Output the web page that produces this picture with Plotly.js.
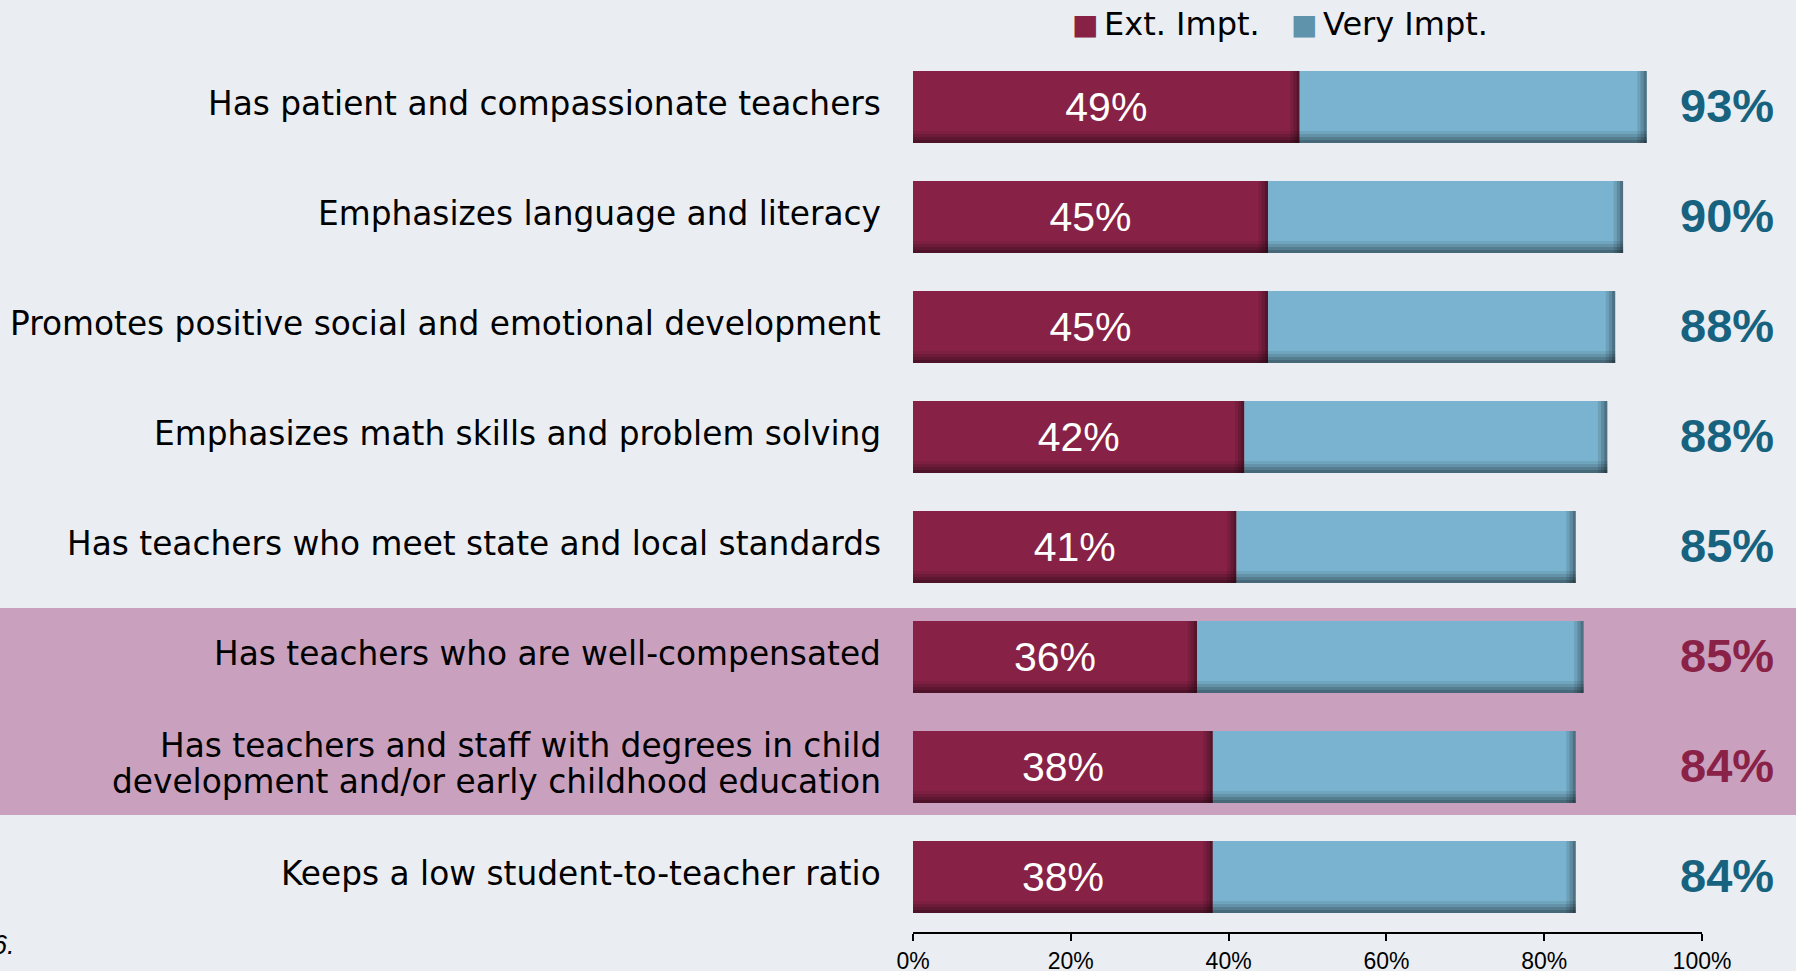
<!DOCTYPE html>
<html>
<head>
<meta charset="utf-8">
<script src="https://cdn.plot.ly/plotly-3.0.1.min.js"></script>
<style>
html,body{margin:0;padding:0;background:#eaeef3;}
#chart{width:1796px;height:971px;}
</style>
</head>
<body>
<div id="chart"></div>
<script>
// ---- data ----
const categories = [
  'Has patient and compassionate teachers',
  'Emphasizes language and literacy',
  'Promotes positive social and emotional development',
  'Emphasizes math skills and problem solving',
  'Has teachers who meet state and local standards',
  'Has teachers who are well-compensated',
  'Has teachers and staff with degrees in child<br>development and/or early childhood education',
  'Keeps a low student-to-teacher ratio'
];
const extImpt  = [49, 45, 45, 42, 41, 36, 38, 38];
const veryImpt = [44, 45, 44, 46, 43, 49, 46, 46];
const netTotals = [93, 90, 88, 88, 85, 85, 84, 84];
const highlighted = [5, 6];
const seriesNames = ['Ext. Impt.', 'Very Impt.'];
const tickVals = [0, 20, 40, 60, 80, 100];
const tickLabels = ['0%', '20%', '40%', '60%', '80%', '100%'];
const footnote = '6.';

// ---- styling / geometry ----
const W = 1796, H = 971;
const M = {l: 913, r: 94, t: 52, b: 39};
const PW = W - M.l - M.r, PH = H - M.t - M.b;
const px2x = px => (px - M.l) / PW;           // pixel -> paper x
const py2y = py => 1 - (py - M.t) / PH;       // pixel -> paper y
const RED = '#872246', BLUE = '#7ab3cf';
const TEAL = '#17637f', MAROON = '#8a2248';
const BG = '#eaeef3', BAND = '#c9a1be';
const BARW = 0.655;

const idx = categories.map((_, i) => i);
const totalLen = extImpt.map((v, i) => v + veryImpt[i]);

const traces = [];
traces.push({
  type: 'bar', orientation: 'h', name: seriesNames[0],
  y: idx, x: extImpt, base: 0, width: BARW,
  marker: {color: RED, line: {width: 0}},
  text: extImpt.map(v => v + '%'), textposition: 'inside',
  insidetextanchor: 'middle', constraintext: 'none',
  textfont: {family: 'Liberation Sans, Arial, sans-serif', size: 41, color: '#ffffff'},
  hoverinfo: 'skip', showlegend: false
});
traces.push({
  type: 'bar', orientation: 'h', name: seriesNames[1],
  y: idx, x: veryImpt, base: extImpt, width: BARW,
  marker: {color: BLUE, line: {width: 0}},
  hoverinfo: 'skip', showlegend: false
});
// bevel shading: bottom gradient strips
const bottomAlphas = [0.08, 0.18, 0.30, 0.42];
const stripW = 0.11 / bottomAlphas.length;
bottomAlphas.forEach((a, k) => {
  traces.push({
    type: 'bar', orientation: 'h', y: idx, x: totalLen, base: 0,
    width: stripW, offset: BARW / 2 - 0.11 + k * stripW,
    marker: {color: 'rgba(0,0,0,' + a + ')', line: {width: 0}},
    hoverinfo: 'skip', showlegend: false
  });
});
// bevel shading: right edge gradient strips for each segment
const edgeAlphas = [0.10, 0.22, 0.36];
const edgeStep = 0.4;
[extImpt, totalLen].forEach(ends => {
  edgeAlphas.forEach((a, k) => {
    traces.push({
      type: 'bar', orientation: 'h', y: idx,
      x: ends.map(() => edgeStep),
      base: ends.map(v => v - edgeStep * (edgeAlphas.length - k)),
      width: BARW,
      marker: {color: 'rgba(0,0,0,' + a + ')', line: {width: 0}},
      hoverinfo: 'skip', showlegend: false
    });
  });
});

const annotations = [];
// category labels (left)
const LINE_GAP = 36.7;
categories.forEach((c, i) => {
  const lines = c.split('<br>');
  lines.forEach((ln, j) => {
    annotations.push({
      xref: 'paper', yref: 'y', x: px2x(883), y: i,
      xanchor: 'right', yanchor: 'middle', align: 'right',
      text: ln, showarrow: false,
      yshift: 3 - (j - (lines.length - 1) / 2) * LINE_GAP,
      font: {family: 'DejaVu Sans, sans-serif', size: 32.8, color: '#000000'}
    });
  });
});
// net totals (right)
netTotals.forEach((v, i) => {
  annotations.push({
    xref: 'paper', yref: 'y', x: px2x(1776), y: i,
    xanchor: 'right', yanchor: 'middle', showarrow: false,
    text: '<b>' + v + '%</b>', yshift: 2,
    font: {family: 'Liberation Sans, Arial, sans-serif', size: 47,
           color: highlighted.includes(i) ? MAROON : TEAL}
  });
});
// legend (manual)
const legendItems = [
  {name: seriesNames[0], color: RED, sq: 1084.5, tx: 1102},
  {name: seriesNames[1], color: '#5f93ab', sq: 1303.5, tx: 1321}
];
legendItems.forEach(it => {
  annotations.push({
    xref: 'paper', yref: 'paper', x: px2x(it.sq), y: py2y(24),
    xanchor: 'center', yanchor: 'middle', showarrow: false,
    text: '■', font: {family: 'DejaVu Sans, sans-serif', size: 28, color: it.color}
  });
  annotations.push({
    xref: 'paper', yref: 'paper', x: px2x(it.tx), y: py2y(24),
    xanchor: 'left', yanchor: 'middle', showarrow: false,
    text: it.name, font: {family: 'DejaVu Sans, sans-serif', size: 32, color: '#000000'}
  });
});
// footnote fragment
annotations.push({
  xref: 'paper', yref: 'paper', x: px2x(17), y: py2y(945),
  xanchor: 'right', yanchor: 'middle', showarrow: false,
  text: '<i>' + footnote + '</i>',
  font: {family: 'Liberation Sans, Arial, sans-serif', size: 27, color: '#000000'}
});

const shapes = [{
  type: 'rect', layer: 'below', xref: 'paper', yref: 'y',
  x0: px2x(0), x1: px2x(W),
  y0: Math.min(...highlighted) - 0.445, y1: Math.max(...highlighted) + 0.436,
  fillcolor: BAND, line: {width: 0}
}];

const layout = {
  width: W, height: H,
  margin: {l: M.l, r: M.r, t: M.t, b: M.b, pad: 0},
  paper_bgcolor: BG, plot_bgcolor: 'rgba(0,0,0,0)',
  barmode: 'overlay', showlegend: false,
  xaxis: {
    range: [0, 100], tickmode: 'array', tickvals: tickVals, ticktext: tickLabels,
    showline: true, linecolor: '#000000', linewidth: 2,
    ticks: 'outside', ticklen: 7, tickwidth: 2, tickcolor: '#000000',
    showgrid: false, zeroline: false, fixedrange: true,
    tickfont: {family: 'Liberation Sans, Arial, sans-serif', size: 23, color: '#000000'}
  },
  yaxis: {
    range: [7.5, -0.5], showticklabels: false, showgrid: false,
    zeroline: false, showline: false, ticks: '', fixedrange: true
  },
  shapes: shapes,
  annotations: annotations
};

Plotly.newPlot('chart', traces, layout, {staticPlot: true, displayModeBar: false});
</script>
</body>
</html>
